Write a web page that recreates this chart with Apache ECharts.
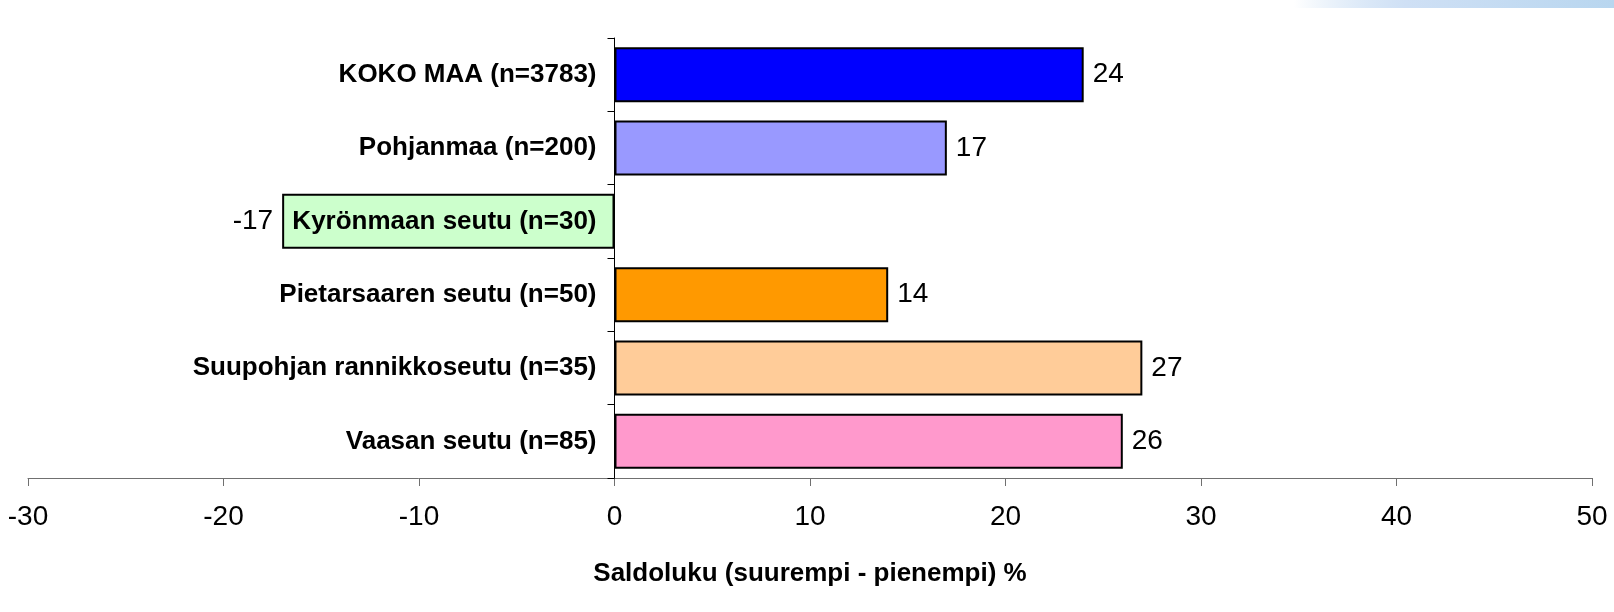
<!DOCTYPE html>
<html>
<head>
<meta charset="utf-8">
<title>Saldoluku</title>
<script src="https://cdn.jsdelivr.net/npm/echarts@6/dist/echarts.min.js"></script>
<style>
  html, body { margin: 0; padding: 0; background: #fff; }
  #chart { width: 1614px; height: 612px; }
</style>
</head>
<body>
<div id="chart"></div>
<script>
// data
const categories = [
  'KOKO MAA (n=3783)',
  'Pohjanmaa (n=200)',
  'Kyrönmaan seutu (n=30)',
  'Pietarsaaren seutu (n=50)',
  'Suupohjan rannikkoseutu (n=35)',
  'Vaasan seutu (n=85)'
];
const values = [24, 17, -17, 14, 27, 26];
const xTicks = [-30, -20, -10, 0, 10, 20, 30, 40, 50];
const axisTitle = 'Saldoluku (suurempi - pienempi) %';

// bar fills, one per category
const barColors = ['#0000ff', '#9999ff', '#ccffcc', '#ff9900', '#ffcc99', '#ff99cc'];

const font = '"Liberation Sans", Arial, sans-serif';
const W = 1614;
const gridLeft = 28;
const gridRight = 22;
const xMin = xTicks[0];
const xMax = xTicks[xTicks.length - 1];

// category axis sits on x = 0, labels move with it
const zeroOffset = -((0 - xMin) / (xMax - xMin)) * (W - gridLeft - gridRight);

const chart = echarts.init(document.getElementById('chart'));

const option = {
  animation: false,
  backgroundColor: '#fff',
  graphic: [
    {
      // light blue strip in the top right corner
      type: 'rect',
      right: 0,
      top: 0,
      shape: { width: 320, height: 8 },
      style: {
        fill: new echarts.graphic.LinearGradient(0, 0, 1, 0, [
          { offset: 0, color: 'rgba(184,212,240,0)' },
          { offset: 0.35, color: '#cfe0f5' },
          { offset: 1, color: '#b8d6ef' }
        ])
      },
      silent: true
    }
  ],
  grid: {
    left: gridLeft,
    right: gridRight,
    top: 38,
    bottom: 134,
    containLabel: false,
    outerBoundsMode: 'none'
  },
  xAxis: {
    type: 'value',
    min: xMin,
    max: xMax,
    interval: 10,
    name: axisTitle,
    nameLocation: 'middle',
    nameGap: 83,
    nameTextStyle: {
      fontFamily: font,
      fontWeight: 'bold',
      fontSize: 26,
      color: '#000'
    },
    splitLine: { show: false },
    axisLine: { show: true, onZero: false, lineStyle: { color: '#707070', width: 1 } },
    axisTick: { show: true, length: 8, lineStyle: { color: '#707070' } },
    axisLabel: {
      margin: 25,
      fontFamily: font,
      fontSize: 28,
      color: '#000'
    }
  },
  yAxis: {
    type: 'category',
    inverse: true,
    data: categories,
    offset: zeroOffset,
    z: 5,
    axisLine: { onZero: false, lineStyle: { color: '#000', width: 1 } },
    axisTick: { show: true, length: 7, lineStyle: { color: '#000' } },
    axisLabel: {
      margin: 18,
      fontFamily: font,
      fontWeight: 'bold',
      fontSize: 26,
      color: '#000'
    }
  },
  series: [
    {
      type: 'bar',
      barWidth: '75%',
      data: values.map((v, i) => ({
        value: v,
        itemStyle: { color: barColors[i] },
        label: { position: v < 0 ? 'left' : 'right' }
      })),
      itemStyle: {
        borderColor: '#000',
        borderWidth: 2
      },
      label: {
        show: true,
        distance: 9,
        fontFamily: font,
        fontSize: 28,
        color: '#000'
      }
    }
  ]
};

chart.setOption(option);
</script>
</body>
</html>
